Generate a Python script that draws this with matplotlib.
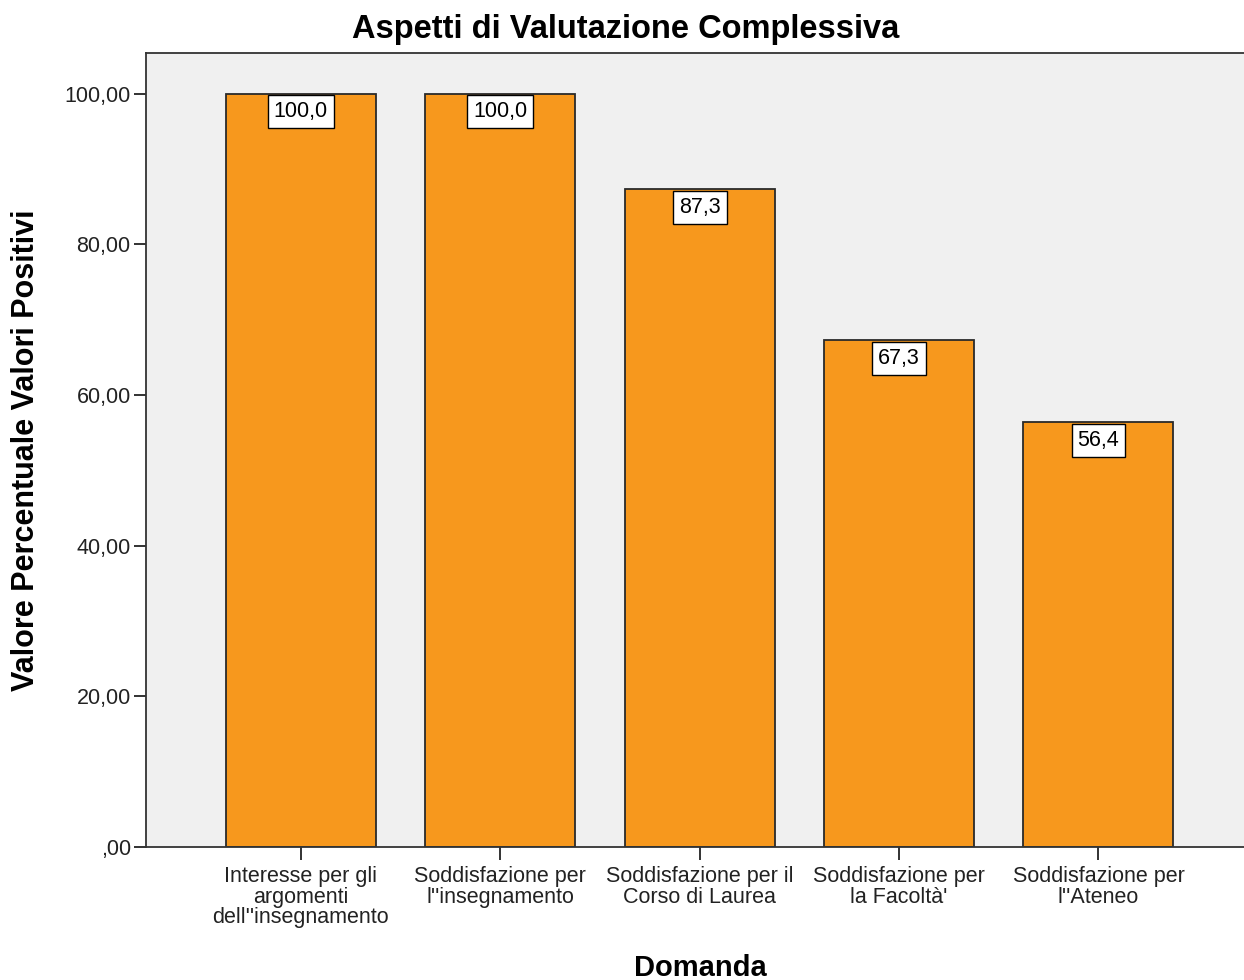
import numpy as np
from matplotlib import pyplot as plt

plt.rcParams['font.family'] = ['Liberation Sans', 'DejaVu Sans']

# data
domande = ['Interesse per gli\nargomenti\ndell\'\'insegnamento',
           'Soddisfazione per\nl\'\'insegnamento',
           'Soddisfazione per il\nCorso di Laurea',
           'Soddisfazione per\nla Facoltà\'',
           'Soddisfazione per\nl\'\'Ateneo']
valori = [100.0, 100.0, 87.3, 67.3, 56.4]
yticks = [0, 20, 40, 60, 80, 100]
ytick_labels = [',00', '20,00', '40,00', '60,00', '80,00', '100,00']

fig = plt.figure(figsize=(12.44, 9.8), dpi=100)
ax = fig.add_axes([146/1244, 1 - 847/980, 1098/1244, (847-53)/980])
ax.set_facecolor('#f0f0f0')

x = np.arange(len(valori))
ax.bar(x, valori, width=0.752, color='#f7981d', edgecolor='#2a2a2a', linewidth=1.3, zorder=2)

for xi, v in zip(x, valori):
    ax.annotate('{:.1f}'.format(v).replace('.', ','), (xi, v), xytext=(0, -5.5),
                textcoords='offset points', ha='center', va='top', fontsize=15.5,
                bbox=dict(boxstyle='square,pad=0.28', fc='white', ec='black', lw=1),
                zorder=3)

ax.set_xlim(-0.777, 4.73)
ax.set_ylim(0, 105.4)
ax.set_yticks(yticks)
ax.set_yticklabels(ytick_labels)
ax.set_xticks(x)
ax.set_xticklabels(domande, linespacing=0.95)
ax.tick_params(axis='both', direction='out', length=9, width=1.3, labelsize=15.5, colors='#222222')
ax.tick_params(axis='x', pad=5)
ax.tick_params(axis='y', pad=2)

for side in ['left', 'bottom', 'top']:
    ax.spines[side].set_linewidth(1.3)
    ax.spines[side].set_color('#333333')
ax.spines['right'].set_visible(False)

fig.suptitle('Aspetti di Valutazione Complessiva', x=0.503, y=1 - 14/980, va='top',
             fontsize=23.5, fontweight='bold')
ax.set_ylabel('Valore Percentuale Valori Positivi', fontsize=22, fontweight='bold')
ax.yaxis.set_label_coords((41 - 146) / 1098, 0.5)
ax.set_xlabel('Domanda', fontsize=21, fontweight='bold')
ax.xaxis.set_label_coords(0.505, -(954 - 847) / 794)

plt.savefig('out.png', dpi=100)
